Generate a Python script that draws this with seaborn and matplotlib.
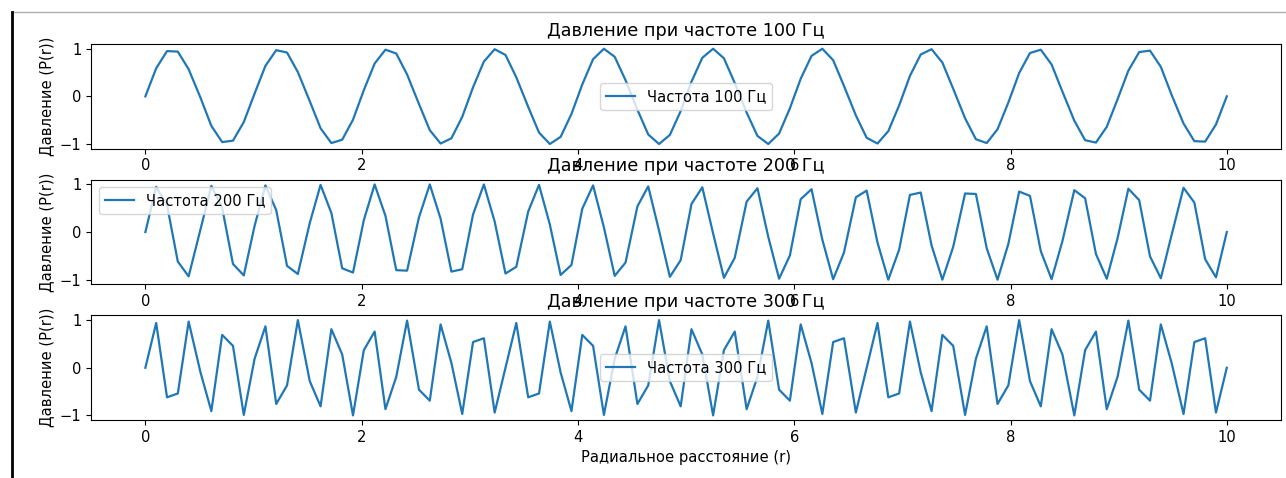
import matplotlib
matplotlib.use("Agg")
import matplotlib.pyplot as plt
from matplotlib.lines import Line2D
import seaborn as sns
import pandas as pd

# Radial distance (r), 100 samples from 0 to 10
r = [0.00, 0.10, 0.20, 0.30, 0.40, 0.51, 0.61, 0.71, 0.81, 0.91,
     1.01, 1.11, 1.21, 1.31, 1.41, 1.52, 1.62, 1.72, 1.82, 1.92,
     2.02, 2.12, 2.22, 2.32, 2.42, 2.53, 2.63, 2.73, 2.83, 2.93,
     3.03, 3.13, 3.23, 3.33, 3.43, 3.54, 3.64, 3.74, 3.84, 3.94,
     4.04, 4.14, 4.24, 4.34, 4.44, 4.55, 4.65, 4.75, 4.85, 4.95,
     5.05, 5.15, 5.25, 5.35, 5.45, 5.56, 5.66, 5.76, 5.86, 5.96,
     6.06, 6.16, 6.26, 6.36, 6.46, 6.57, 6.67, 6.77, 6.87, 6.97,
     7.07, 7.17, 7.27, 7.37, 7.47, 7.58, 7.68, 7.78, 7.88, 7.98,
     8.08, 8.18, 8.28, 8.38, 8.48, 8.59, 8.69, 8.79, 8.89, 8.99,
     9.09, 9.19, 9.29, 9.39, 9.49, 9.60, 9.70, 9.80, 9.90, 10.00]

p_100 = [0.00, 0.59, 0.95, 0.94, 0.57, -0.03, -0.62, -0.96, -0.93, -0.54,
         0.06, 0.64, 0.97, 0.92, 0.51, -0.10, -0.67, -0.98, -0.91, -0.49,
         0.13, 0.69, 0.98, 0.90, 0.46, -0.16, -0.71, -0.99, -0.88, -0.43,
         0.19, 0.73, 0.99, 0.87, 0.40, -0.22, -0.76, -1.00, -0.85, -0.37,
         0.25, 0.78, 1.00, 0.83, 0.34, -0.28, -0.80, -1.00, -0.81, -0.31,
         0.31, 0.81, 1.00, 0.80, 0.28, -0.34, -0.83, -1.00, -0.78, -0.25,
         0.37, 0.85, 1.00, 0.76, 0.22, -0.40, -0.87, -0.99, -0.73, -0.19,
         0.43, 0.88, 0.99, 0.71, 0.16, -0.46, -0.90, -0.98, -0.69, -0.13,
         0.49, 0.91, 0.98, 0.67, 0.10, -0.51, -0.92, -0.97, -0.64, -0.06,
         0.54, 0.93, 0.96, 0.62, 0.03, -0.57, -0.94, -0.95, -0.59, 0.00]

p_200 = [0.00, 0.95, 0.57, -0.62, -0.93, 0.06, 0.97, 0.51, -0.67, -0.91,
         0.13, 0.98, 0.46, -0.71, -0.88, 0.19, 0.99, 0.40, -0.76, -0.85,
         0.25, 1.00, 0.34, -0.80, -0.81, 0.31, 1.00, 0.28, -0.83, -0.78,
         0.37, 1.00, 0.22, -0.87, -0.73, 0.43, 0.99, 0.16, -0.90, -0.69,
         0.49, 0.98, 0.10, -0.92, -0.64, 0.54, 0.96, 0.03, -0.94, -0.59,
         0.59, 0.94, -0.03, -0.96, -0.54, 0.64, 0.92, -0.10, -0.98, -0.49,
         0.69, 0.90, -0.16, -0.99, -0.43, 0.73, 0.87, -0.22, -1.00, -0.37,
         0.78, 0.83, -0.28, -1.00, -0.31, 0.81, 0.80, -0.34, -1.00, -0.25,
         0.85, 0.76, -0.40, -0.99, -0.19, 0.88, 0.71, -0.46, -0.98, -0.13,
         0.91, 0.67, -0.51, -0.97, -0.06, 0.93, 0.62, -0.57, -0.95, 0.00]

p_300 = [0.00, 0.94, -0.62, -0.54, 0.97, -0.10, -0.91, 0.69, 0.46, -0.99,
         0.19, 0.87, -0.76, -0.37, 1.00, -0.28, -0.81, 0.81, 0.28, -1.00,
         0.37, 0.76, -0.87, -0.19, 0.99, -0.46, -0.69, 0.91, 0.10, -0.97,
         0.54, 0.62, -0.94, 0.00, 0.94, -0.62, -0.54, 0.97, -0.10, -0.91,
         0.69, 0.46, -0.99, 0.19, 0.87, -0.76, -0.37, 1.00, -0.28, -0.81,
         0.81, 0.28, -1.00, 0.37, 0.76, -0.87, -0.19, 0.99, -0.46, -0.69,
         0.91, 0.10, -0.97, 0.54, 0.62, -0.94, 0.00, 0.94, -0.62, -0.54,
         0.97, -0.10, -0.91, 0.69, 0.46, -0.99, 0.19, 0.87, -0.76, -0.37,
         1.00, -0.28, -0.81, 0.81, 0.28, -1.00, 0.37, 0.76, -0.87, -0.19,
         0.99, -0.46, -0.69, 0.91, 0.10, -0.97, 0.54, 0.62, -0.94, 0.00]

frequencies = [100, 200, 300]
pressures = [p_100, p_200, p_300]
legend_locs = ['center', 'upper left', 'center']

# the screenshot is a bit larger than default matplotlib sizing
plt.rcParams['font.size'] = 10.6
plt.rcParams['axes.titlesize'] = 12.7
plt.rcParams['lines.linewidth'] = 1.6

fig, axes = plt.subplots(3, 1, figsize=(12.86, 4.78), dpi=100)
fig.subplots_adjust(left=0.071, right=0.996, bottom=0.121, top=0.908, hspace=0.295)

for ax, f, p, loc in zip(axes, frequencies, pressures, legend_locs):
    df = pd.DataFrame({'r': r, 'p': p})
    sns.lineplot(data=df, x='r', y='p', ax=ax, color='#1f77b4',
                 label=f'Частота {f} Гц')
    ax.set_title(f'Давление при частоте {f} Гц')
    ax.set_ylabel('Давление (P(r))')
    ax.set_xlabel('')
    ax.legend(loc=loc)

axes[-1].set_xlabel('Радиальное расстояние (r)')

# screenshot frame lines
fig.add_artist(Line2D([0.0093, 1.0], [0.975, 0.975], color='#b0b0b0', linewidth=1))
fig.add_artist(Line2D([0.0093, 0.0093], [0.0, 0.975], color='black', linewidth=2))

fig.savefig('out.png', dpi=100)
